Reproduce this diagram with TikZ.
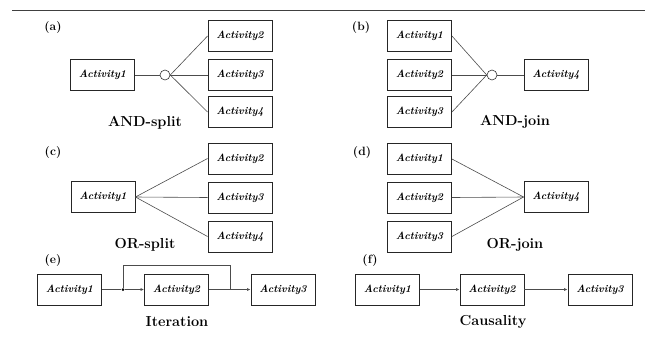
\documentclass[tikz,border=0pt]{standalone}
\usetikzlibrary{arrows.meta}
\tikzset{
  actbox/.style={draw=black!85, line width=0.9pt, minimum width=64pt, minimum height=31pt, inner sep=0pt,
    font=\fontsize{10.5}{12}\selectfont\bfseries\itshape},
  conn/.style={draw=black!70, line width=0.6pt},
  arr/.style={conn, -{Latex[length=3.5pt,width=3pt]}},
  gate/.style={circle, draw=black!80, line width=0.6pt, minimum size=10pt, inner sep=0pt, fill=white},
  panel/.style={font=\fontsize{12}{14}\selectfont\bfseries},
  caption/.style={font=\fontsize{14.5}{16}\selectfont\bfseries},
  dot/.style={circle, fill=black, minimum size=3pt, inner sep=0pt}
}
\begin{document}
\begin{tikzpicture}[x=1pt,y=-1pt]
\useasboundingbox (0,0) rectangle (645,349);
\coordinate (r1) at (12,10);
\coordinate (r2) at (645,10);
\draw[black!75, line width=1pt] (r1) -- (r2);

% (a) AND-split
\node[panel] (la) at (53,28) {(a)};
\node[actbox] (a1) at (102.5,75) {Activity1};
\node[gate] (ag) at (165,75) {};
\node[actbox] (a2) at (240,36) {Activity2};
\node[actbox] (a3) at (240,75) {Activity3};
\node[actbox] (a4) at (240,112) {Activity4};
\draw[conn] (a1.east) -- (ag.west);
\draw[conn] (ag.east) -- (a2.west);
\draw[conn] (ag.east) -- (a3.west);
\draw[conn] (ag.east) -- (a4.west);
\node[caption] (ca) at (145,123) {AND-split};

% (b) AND-join
\node[panel] (lb) at (361,28) {(b)};
\node[actbox] (b1) at (419.5,36) {Activity1};
\node[actbox] (b2) at (419.5,75) {Activity2};
\node[actbox] (b3) at (419.5,112) {Activity3};
\node[gate] (bg) at (492,75) {};
\node[actbox] (b4) at (556,75) {Activity4};
\draw[conn] (b1.east) -- (bg.west);
\draw[conn] (b2.east) -- (bg.west);
\draw[conn] (b3.east) -- (bg.west);
\draw[conn] (bg.east) -- (b4.west);
\node[caption] (cb) at (515,122) {AND-join};

% (c) OR-split
\node[panel] (lc) at (53,153) {(c)};
\node[actbox] (c1) at (103,197) {Activity1};
\node[actbox] (c2) at (240,158.5) {Activity2};
\node[actbox] (c3) at (240,197.5) {Activity3};
\node[actbox] (c4) at (240,236.5) {Activity4};
\draw[conn] (c1.east) -- (c2.west);
\draw[conn] (c1.east) -- (c3.west);
\draw[conn] (c1.east) -- (c4.west);
\node[caption] (cc) at (145,245) {OR-split};

% (d) OR-join
\node[panel] (ld) at (362,153) {(d)};
\node[actbox] (d1) at (419.5,159) {Activity1};
\node[actbox] (d2) at (419.5,197.5) {Activity2};
\node[actbox] (d3) at (419.5,236.5) {Activity3};
\node[actbox] (d4) at (556,197) {Activity4};
\draw[conn] (d1.east) -- (d4.west);
\draw[conn] (d2.east) -- (d4.west);
\draw[conn] (d3.east) -- (d4.west);
\node[caption] (cd) at (515,245) {OR-join};

% (e) Iteration
\node[panel] (le) at (53,260) {(e)};
\node[actbox] (e1) at (69.5,289.5) {Activity1};
\node[actbox] (e2) at (176.5,289.5) {Activity2};
\node[actbox] (e3) at (283,289.5) {Activity3};
\node[dot] (ed) at (123,289.5) {};
\coordinate (ej) at (230,289.5);
\coordinate (et1) at (123,265);
\coordinate (et2) at (230,265);
\draw[conn] (e1.east) -- (ed);
\draw[arr] (ed) -- (e2.west);
\draw[arr] (e2.east) -- (e3.west);
\draw[conn] (ej) -- (et2) -- (et1) -- (ed);
\node[caption] (ce) at (177,322) {Iteration};

% (f) Causality
\node[panel] (lf) at (370,260) {(f)};
\node[actbox] (f1) at (387.5,289.5) {Activity1};
\node[actbox] (f2) at (492,289.5) {Activity2};
\node[actbox] (f3) at (600,289.5) {Activity3};
\draw[arr] (f1.east) -- (f2.west);
\draw[arr] (f2.east) -- (f3.west);
\node[caption] (cf) at (493,322) {Causality};
\end{tikzpicture}
\end{document}
